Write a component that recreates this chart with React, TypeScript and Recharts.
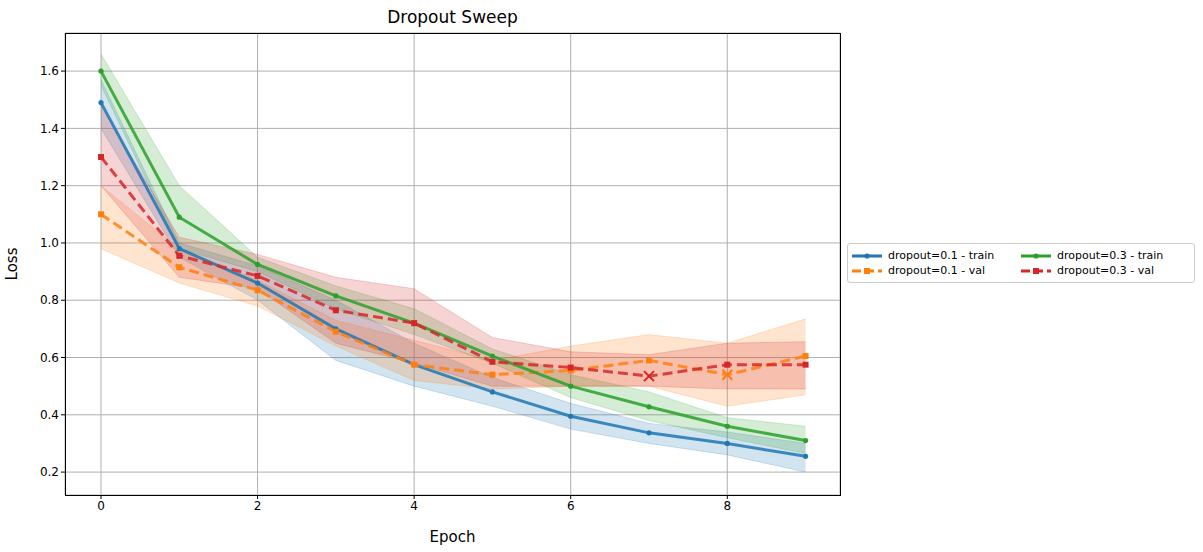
import React from 'react';
import { ComposedChart, Line, Area, XAxis, YAxis, CartesianGrid, Label } from 'recharts';

const epochs = [0, 1, 2, 3, 4, 5, 6, 7, 8, 9];

const train01 = [1.49, 0.98, 0.86, 0.70, 0.575, 0.48, 0.395, 0.337, 0.30, 0.255];
const train01Lo = [1.40, 0.95, 0.80, 0.59, 0.50, 0.43, 0.35, 0.30, 0.26, 0.20];
const train01Hi = [1.57, 1.00, 0.92, 0.80, 0.65, 0.53, 0.44, 0.37, 0.34, 0.30];

const val01 = [1.10, 0.915, 0.835, 0.69, 0.575, 0.54, 0.555, 0.59, 0.54, 0.605];
const val01Lo = [0.98, 0.86, 0.78, 0.64, 0.52, 0.49, 0.50, 0.50, 0.43, 0.47];
const val01Hi = [1.20, 0.98, 0.87, 0.73, 0.66, 0.59, 0.64, 0.68, 0.65, 0.735];

const train03 = [1.60, 1.09, 0.925, 0.815, 0.72, 0.605, 0.50, 0.428, 0.36, 0.31];
const train03Lo = [1.55, 0.98, 0.90, 0.77, 0.68, 0.58, 0.46, 0.38, 0.32, 0.265];
const train03Hi = [1.66, 1.20, 0.95, 0.85, 0.77, 0.63, 0.54, 0.48, 0.39, 0.36];

const val03 = [1.30, 0.955, 0.885, 0.765, 0.72, 0.585, 0.565, 0.535, 0.575, 0.575];
const val03Lo = [1.20, 0.88, 0.84, 0.65, 0.58, 0.50, 0.50, 0.50, 0.49, 0.49];
const val03Hi = [1.48, 1.02, 0.96, 0.88, 0.84, 0.67, 0.62, 0.61, 0.65, 0.655];

// epoch where each val curve has its best value (drawn as an x)
const val01Best = 8;
const val03Best = 7;

const xTicks = [0, 2, 4, 6, 8];
const yTicks = [0.2, 0.4, 0.6, 0.8, 1.0, 1.2, 1.4, 1.6];

const BLUE = '#1f77b4';
const ORANGE = '#ff7f0e';
const GREEN = '#2ca02c';
const RED = '#d62728';

const data = epochs.map((e, i) => ({
  epoch: e,
  t01: train01[i], t01Band: [train01Lo[i], train01Hi[i]],
  v01: val01[i], v01Band: [val01Lo[i], val01Hi[i]],
  t03: train03[i], t03Band: [train03Lo[i], train03Hi[i]],
  v03: val03[i], v03Band: [val03Lo[i], val03Hi[i]],
}));

const circleDot = (color: string) => (p: any) =>
  <circle key={p.index} cx={p.cx} cy={p.cy} r={2.6} fill={color} />;

const squareDot = (color: string, best: number) => (p: any) => {
  if (p.index === best) {
    const s = 5;
    return (
      <g key={p.index} stroke={color} strokeWidth={2}>
        <line x1={p.cx - s} y1={p.cy - s} x2={p.cx + s} y2={p.cy + s} />
        <line x1={p.cx - s} y1={p.cy + s} x2={p.cx + s} y2={p.cy - s} />
      </g>
    );
  }
  return <rect key={p.index} x={p.cx - 3} y={p.cy - 3} width={6} height={6} fill={color} />;
};

const legendItems = [
  { label: 'dropout=0.1 - train', color: BLUE, dash: false },
  { label: 'dropout=0.3 - train', color: GREEN, dash: false },
  { label: 'dropout=0.1 - val', color: ORANGE, dash: true },
  { label: 'dropout=0.3 - val', color: RED, dash: true },
];

export default function App() {
  const font = 'DejaVu Sans, sans-serif';
  return (
    <div style={{ position: 'absolute', left: 0, top: 0, width: 1203, height: 552, background: '#fff', fontFamily: font }}>
      <div style={{ position: 'absolute', left: 65, top: 7, width: 775, textAlign: 'center', fontSize: 17 }}>Dropout Sweep</div>
      <ComposedChart width={1203} height={552} data={data} margin={{ top: 33, right: 363, bottom: 0, left: 0 }}>
        <CartesianGrid stroke="#b0b0b0" strokeWidth={1} />
        <XAxis dataKey="epoch" type="number" domain={[-0.46, 9.44]} ticks={xTicks} height={57}
          tick={{ fill: '#000', fontSize: 12, fontFamily: font }} tickLine={{ stroke: '#000' }} tickSize={4}
          axisLine={false}>
          <Label value="Epoch" position="insideBottom" offset={10} style={{ fill: '#000', fontSize: 15, fontFamily: font }} />
        </XAxis>
        <YAxis type="number" domain={[0.12, 1.733]} ticks={yTicks} width={65} allowDataOverflow
          tickFormatter={(v: number) => v.toFixed(1)}
          tick={{ fill: '#000', fontSize: 12, fontFamily: font }} tickLine={{ stroke: '#000' }} tickSize={4}
          axisLine={false}>
          <Label value="Loss" angle={-90} position="insideLeft" offset={12} style={{ fill: '#000', fontSize: 15, fontFamily: font, textAnchor: 'middle' }} />
        </YAxis>
        <Area dataKey="t01Band" stroke={BLUE} strokeOpacity={0.2} fill={BLUE} fillOpacity={0.2} isAnimationActive={false} />
        <Area dataKey="v01Band" stroke={ORANGE} strokeOpacity={0.2} fill={ORANGE} fillOpacity={0.2} isAnimationActive={false} />
        <Area dataKey="t03Band" stroke={GREEN} strokeOpacity={0.2} fill={GREEN} fillOpacity={0.2} isAnimationActive={false} />
        <Area dataKey="v03Band" stroke={RED} strokeOpacity={0.2} fill={RED} fillOpacity={0.2} isAnimationActive={false} />
        <Line dataKey="t01" stroke={BLUE} strokeOpacity={0.85} strokeWidth={3} dot={circleDot(BLUE)} isAnimationActive={false} />
        <Line dataKey="v01" stroke={ORANGE} strokeOpacity={0.85} strokeWidth={3} strokeDasharray="10 5" dot={squareDot(ORANGE, val01Best)} isAnimationActive={false} />
        <Line dataKey="t03" stroke={GREEN} strokeOpacity={0.85} strokeWidth={3} dot={circleDot(GREEN)} isAnimationActive={false} />
        <Line dataKey="v03" stroke={RED} strokeOpacity={0.85} strokeWidth={3} strokeDasharray="10 5" dot={squareDot(RED, val03Best)} isAnimationActive={false} />
      </ComposedChart>
      <div style={{ position: 'absolute', left: 65, top: 33, width: 774, height: 461, border: '1px solid #000', pointerEvents: 'none' }} />
      <div style={{ position: 'absolute', left: 847, top: 243, width: 348, height: 40, border: '1px solid #ccc', borderRadius: 3,
        display: 'grid', gridTemplateColumns: '1fr 1fr', padding: '2px 4px', boxSizing: 'border-box', fontSize: 11, alignContent: 'center', rowGap: 2 }}>
        {legendItems.map(it => (
          <div key={it.label} style={{ display: 'flex', alignItems: 'center', gap: 6 }}>
            <svg width={30} height={10}>
              <line x1={0} y1={5} x2={30} y2={5} stroke={it.color} strokeWidth={3} strokeDasharray={it.dash ? '9 4' : undefined} />
              {it.dash ? <rect x={12} y={2} width={6} height={6} fill={it.color} /> : <circle cx={15} cy={5} r={2.6} fill={it.color} />}
            </svg>
            <span>{it.label}</span>
          </div>
        ))}
      </div>
    </div>
  );
}
